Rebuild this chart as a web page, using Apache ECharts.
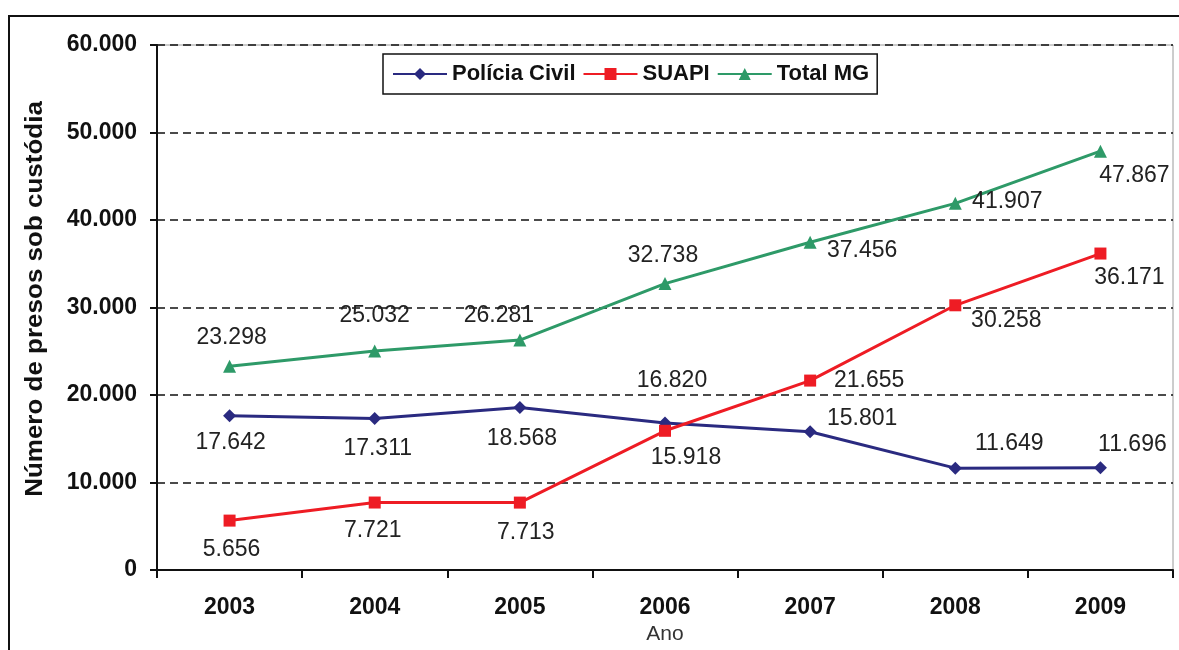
<!DOCTYPE html>
<html>
<head>
<meta charset="utf-8">
<script src="https://cdn.jsdelivr.net/npm/echarts@6/dist/echarts.min.js"></script>
<style>
  html, body { margin: 0; padding: 0; background: #fff; overflow: hidden; }
  #chart { width: 1179px; height: 650px; }
</style>
</head>
<body>
<div id="chart"></div>
<script>
// Presos sob custódia em Minas Gerais, 2003–2009
const years = ['2003', '2004', '2005', '2006', '2007', '2008', '2009'];
const policiaCivil = [17642, 17311, 18568, 16820, 15801, 11649, 11696];
const suapi = [5656, 7721, 7713, 15918, 21655, 30258, 36171];
const totalMG = [23298, 25032, 26281, 32738, 37456, 41907, 47867];
const yTicks = [0, 10000, 20000, 30000, 40000, 50000, 60000];

// Where each value label sits relative to its marker (pixels, dx / dy)
const offsetsPolicia = [[1, 27], [3, 30], [2, 31], [7, -42], [52, -13], [54, -24], [32, -23]];
const offsetsSuapi = [[2, 29], [-2, 28], [6, 30], [21, 27], [59, 0], [51, 15], [29, 24]];
const offsetsTotal = [[2, -29], [0, -35], [-21, -24], [-2, -28], [52, 8], [52, -2], [34, 24]];

const FONT = '"Liberation Sans", Arial, sans-serif';

function fmt(v) {
  return String(v).replace(/\B(?=(\d{3})+(?!\d))/g, '.');
}

function withLabels(values, offsets) {
  return values.map((v, i) => ({
    value: v,
    label: { offset: offsets[i] }
  }));
}

const labelStyle = {
  show: true,
  position: 'inside',
  align: 'center',
  verticalAlign: 'middle',
  fontFamily: FONT,
  fontSize: 23,
  color: '#222',
  formatter: p => fmt(p.value)
};

function lineSeries(name, values, offsets, color, symbol, size) {
  return {
    name: name,
    type: 'line',
    data: withLabels(values, offsets),
    symbol: symbol,
    symbolSize: size,
    lineStyle: { color: color, width: 3 },
    itemStyle: { color: color },
    label: labelStyle,
    emphasis: { disabled: true },
    z: 3
  };
}

const chart = echarts.init(document.getElementById('chart'), null, { renderer: 'canvas' });

chart.setOption({
  animation: false,
  backgroundColor: '#fff',
  graphic: [
    {
      type: 'rect',
      shape: { x: 9, y: 16, width: 1300, height: 800 },
      style: { fill: 'none', stroke: '#111', lineWidth: 2 },
      silent: true
    },
    {
      type: 'text',
      x: 36,
      y: 299,
      rotation: Math.PI / 2,
      scaleX: 1.13,
      style: {
        text: 'Número de presos sob custódia',
        font: 'bold 23px ' + FONT,
        fill: '#111',
        align: 'center',
        verticalAlign: 'middle'
      },
      silent: true
    }
  ],
  legend: {
    left: 383,
    top: 54,
    padding: [9, 8, 9, 9],
    itemGap: 7,
    itemWidth: 54,
    itemHeight: 15,
    borderColor: '#111',
    borderWidth: 1.5,
    backgroundColor: '#fff',
    textStyle: { fontFamily: FONT, fontSize: 22, fontWeight: 'bold', color: '#111' },
    data: ['Polícia Civil', 'SUAPI', 'Total MG']
  },
  grid: {
    left: 157, top: 45, width: 1016, height: 532,
    show: true,
    borderColor: '#9a9a9a',
    borderWidth: 1,
    containLabel: false
  },
  xAxis: {
    type: 'category',
    data: years,
    boundaryGap: true,
    name: 'Ano',
    nameLocation: 'middle',
    nameGap: 53,
    nameTextStyle: { fontFamily: FONT, fontSize: 21, color: '#333' },
    axisLine: { lineStyle: { color: '#111', width: 2 } },
    axisTick: { show: true, length: 8, inside: false, lineStyle: { color: '#111', width: 2 } },
    axisLabel: { fontFamily: FONT, fontSize: 23, fontWeight: 'bold', color: '#111', margin: 26 },
    splitLine: { show: false }
  },
  yAxis: {
    type: 'value',
    min: yTicks[0],
    max: yTicks[yTicks.length - 1],
    interval: yTicks[1] - yTicks[0],
    axisLine: { show: true, lineStyle: { color: '#111', width: 2 } },
    axisTick: { show: true, length: 7, inside: false, lineStyle: { color: '#111', width: 2 } },
    axisLabel: { fontFamily: FONT, fontSize: 23, fontWeight: 'bold', color: '#111', margin: 20, formatter: v => fmt(v) },
    splitLine: { show: true, lineStyle: { color: '#111', width: 1.5, type: [8, 5] } }
  },
  series: [
    lineSeries('Polícia Civil', policiaCivil, offsetsPolicia, '#2a2a80', 'diamond', 13),
    lineSeries('SUAPI', suapi, offsetsSuapi, '#ee1c24', 'rect', 12),
    lineSeries('Total MG', totalMG, offsetsTotal, '#2e9a68', 'triangle', 13)
  ]
});
</script>
</body>
</html>
